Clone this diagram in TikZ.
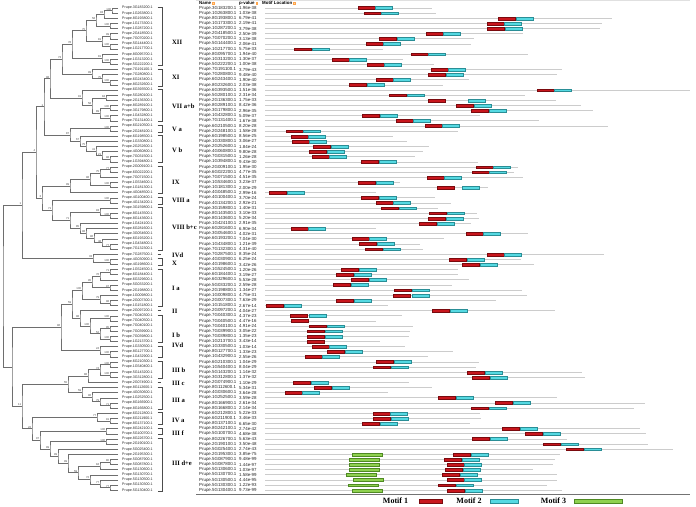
\documentclass[tikz,border=0pt]{standalone}
\usepackage{fontspec}
\setmainfont{Liberation Serif}
\setsansfont{Liberation Sans}
\usetikzlibrary{calc}
\definecolor{treec}{HTML}{6E6E6E}
\definecolor{seqc}{HTML}{CCCCCC}
\definecolor{mone}{HTML}{C8161D}
\definecolor{moned}{HTML}{7A0A0E}
\definecolor{mtwo}{HTML}{55D9E2}
\definecolor{mtwod}{HTML}{2A8E96}
\definecolor{mthree}{HTML}{8FD14F}
\definecolor{mthreed}{HTML}{4F8A23}
\newcommand\RY[1]{8+(#1-1)*5.13}
\newcommand\tn[5]{%
  \path let \p1=($(#3)!.5!(#4)$) in (#2pt,\y1) coordinate (#1);
  \draw[tbr] (#3) -| (#1) |- (#4);
  \node[boot] at (#1) {#5};}
\newcommand\grp[4]{%
  \draw[brk] (157.5,{\RY{#1}-0.8}) -- (162,{\RY{#1}-0.8}) -- (162,{\RY{#2}+0.8}) -- (157.5,{\RY{#2}+0.8});
  \node[glab] at (172,#4) {#3};}
\newcommand\sgl[3]{%
  \draw[brk] (157.5,{\RY{#1}}) -- (161,{\RY{#1}});
  \node[glab] at (172,#3) {#2};}
\tikzset{
  tbr/.style={draw=treec, line width=0.55pt},
  boot/.style={font=\sffamily\fontsize{2.8}{3}\selectfont, text=black!75, anchor=south east, inner sep=0.25pt, xshift=-0.4pt},
  leafl/.style={font=\sffamily\fontsize{3.6}{4}\selectfont, anchor=west, inner sep=0, text=black!85},
  tname/.style={font=\sffamily\fontsize{4.4}{5}\selectfont, anchor=west, inner sep=0, text=black!85},
  hdr/.style={font=\sffamily\bfseries\fontsize{4.4}{5}\selectfont, anchor=west, inner sep=0},
  glab/.style={font=\bfseries\fontsize{6.6}{7.5}\selectfont, anchor=west, inner sep=0},
  brk/.style={draw=black!70, line width=0.45pt},
  seql/.style={draw=seqc, line width=0.8pt},
  mA/.style={fill=mone, draw=moned, line width=0.25pt},
  mB/.style={fill=mtwo, draw=mtwod, line width=0.25pt},
  mC/.style={fill=mthree, draw=mthreed, line width=0.25pt},
  legt/.style={font=\bfseries\fontsize{8}{9}\selectfont, inner sep=0},
  icon/.style={fill=orange!35, draw=orange!70, line width=0.2pt}
}
\begin{document}
\begin{tikzpicture}[x=1pt,y=-1pt]
\useasboundingbox (0,0) rectangle (696,506);
\fill[white] (0,0) rectangle (696,506);
% leaves
\foreach \i in {1,...,95} \coordinate (L\i) at (118,{\RY{\i}});
% tree
\tn{n1}{112}{L1}{L2}{100}
\tn{n2}{104}{n1}{L3}{93}
\tn{n3}{110}{L4}{L5}{100}
\tn{n4}{96}{n2}{n3}{58}
\tn{n5}{110}{L6}{L7}{99}
\tn{n6}{110}{L8}{L9}{100}
\tn{n7}{102}{n5}{n6}{81}
\tn{n8}{86}{n4}{n7}{75}
\tn{n9}{110}{L11}{L12}{100}
\tn{n10}{102}{L10}{n9}{81}
\tn{n11}{72}{n8}{n10}{78}
\tn{n12}{110}{L15}{L16}{100}
\tn{n13}{102}{L14}{n12}{75}
\tn{n14}{92}{L13}{n13}{99}
\tn{n15}{62}{n11}{n14}{73}
\tn{n16}{106}{L18}{L19}{84}
\tn{n17}{110}{L20}{L21}{100}
\tn{n18}{110}{L22}{L23}{100}
\tn{n19}{100}{n17}{n18}{89}
\tn{n20}{92}{n16}{n19}{58}
\tn{n21}{82}{L17}{n20}{91}
\tn{n22}{50}{n15}{n21}{98}
\tn{n23}{110}{L24}{L25}{100}
\tn{n24}{110}{L30}{L31}{98}
\tn{n25}{102}{L29}{n24}{21}
\tn{n26}{96}{L28}{n25}{41}
\tn{n27}{86}{L27}{n26}{75}
\tn{n28}{80}{L26}{n27}{67}
\tn{n29}{70}{n23}{n28}{87}
\tn{n30}{44}{n22}{n29}{1}
\tn{n31}{110}{L32}{L33}{77}
\tn{n32}{100}{n31}{L34}{75}
\tn{n33}{110}{L35}{L36}{100}
\tn{n34}{90}{n32}{n33}{98}
\tn{n35}{70}{n34}{L37}{99}
\tn{n36}{110}{L38}{L39}{100}
\tn{n37}{110}{L41}{L42}{100}
\tn{n38}{100}{L40}{n37}{93}
\tn{n39}{110}{L47}{L48}{77}
\tn{n40}{102}{L46}{n39}{48}
\tn{n41}{94}{L45}{n40}{96}
\tn{n42}{86}{L44}{n41}{98}
\tn{n43}{80}{L43}{n42}{85}
\tn{n44}{70}{n38}{n43}{71}
\tn{n45}{52}{n36}{n44}{71}
\tn{n46}{42}{n35}{n45}{3}
\tn{n47}{36}{n30}{n46}{4}
\tn{n48}{110}{L50}{L51}{100}
\tn{n49}{93}{L49}{n48}{33}
\tn{n50}{22}{n47}{n49}{1}
\tn{n51}{110}{L52}{L53}{71}
\tn{n52}{100}{n51}{L54}{76}
\tn{n53}{110}{L55}{L56}{97}
\tn{n54}{92}{n52}{n53}{95}
\tn{n55}{110}{L58}{L59}{98}
\tn{n56}{100}{L57}{n55}{79}
\tn{n57}{82}{n54}{n56}{100}
\tn{n58}{110}{L61}{L62}{100}
\tn{n59}{110}{L63}{L64}{95}
\tn{n60}{110}{L65}{L66}{100}
\tn{n61}{100}{n59}{n60}{52}
\tn{n62}{90}{n58}{n61}{100}
\tn{n63}{80}{L60}{n62}{98}
\tn{n64}{72}{n57}{n63}{59}
\tn{n65}{110}{L68}{L69}{100}
\tn{n66}{100}{L67}{n65}{24}
\tn{n67}{61}{n64}{n66}{96}
\tn{n68}{110}{L70}{L71}{100}
\tn{n69}{110}{L72}{L73}{100}
\tn{n70}{100}{n68}{n69}{74}
\tn{n71}{88}{n70}{L74}{88}
\tn{n72}{110}{L78}{L79}{71}
\tn{n73}{100}{L77}{n72}{79}
\tn{n74}{92}{L76}{n73}{96}
\tn{n75}{82}{L75}{n74}{59}
\tn{n76}{68}{n71}{n75}{55}
\tn{n77}{110}{L81}{L82}{91}
\tn{n78}{97}{L80}{n77}{77}
\tn{n79}{106}{L83}{L84}{100}
\tn{n80}{110}{L89}{L90}{80}
\tn{n81}{100}{n80}{L91}{84}
\tn{n82}{110}{L94}{L95}{77}
\tn{n83}{100}{L93}{n82}{77}
\tn{n84}{90}{L92}{n83}{72}
\tn{n85}{78}{n81}{n84}{59}
\tn{n86}{68}{L88}{n85}{99}
\tn{n87}{58}{L87}{n86}{99}
\tn{n88}{106}{L85}{L86}{100}
\tn{n89}{50}{n88}{n87}{99}
\tn{n90}{40}{n79}{n89}{97}
\tn{n91}{32}{n78}{n90}{22}
\tn{n92}{22}{n76}{n91}{11}
\tn{n93}{12}{n67}{n92}{}
\tn{root}{3}{n50}{n93}{}
% leaf labels, table names, p-values
\foreach \nm/\pv [count=\i] in {3G183200/1.96e-38,1G263800/1.03e-38,8G193800/6.79e-41,1G173300/2.19e-41,1G287200/3.79e-38,2G418500/2.50e-39,7G070200/3.13e-38,5G144400/2.06e-41,1G217700/5.75e-33,8G095700/1.94e-40,1G313200/1.30e-37,5G222200/1.00e-38,7G191100/3.79e-43,7G280800/9.48e-40,6G243400/1.90e-40,8G232600/2.03e-38,6G393500/1.51e-36,5G280100/2.31e-34,2G136300/1.75e-33,8G289100/8.42e-36,3G179800/2.96e-35,1G432800/5.09e-37,7G131400/1.67e-38,6G210500/8.20e-28,2G248100/1.58e-28,6G198500/8.56e-25,1G330800/3.06e-27,2G252600/1.84e-24,4G060800/9.80e-28,7G031500/1.26e-28,1G394800/9.43e-30,2G009100/1.95e-30,6G022200/4.77e-35,7G071500/4.51e-35,1G534600/3.23e-37,1G181300/2.00e-29,4G048500/2.99e-16,4G100400/3.70e-24,4G134200/2.92e-21,3G159800/1.40e-31,8G143500/3.10e-33,8G143600/5.20e-34,1G424100/2.91e-35,6G281600/6.90e-34,3G054600/4.02e-31,6G193200/7.04e-30,1G434800/1.21e-39,7G132300/4.31e-40,7G287500/8.35e-24,4G030900/6.25e-24,4G198600/3.42e-26,1G524500/1.20e-26,6G184400/3.19e-27,6G329600/5.53e-28,5G033200/2.59e-28,2G198800/1.34e-27,1G009800/4.75e-31,2G007300/7.63e-29,1G151800/2.67e-14,2G097200/4.04e-27,7G040300/4.37e-23,7G040500/4.47e-16,7G040100/4.91e-24,7G039900/3.05e-22,7G039800/1.35e-23,1G213700/3.43e-14,1G330500/1.03e-14,8G127700/1.33e-23,1G432900/2.55e-26,6G210300/1.04e-29,1G540400/8.04e-29,5G143200/1.14e-32,3G312800/1.37e-32,2G074900/1.10e-29,8G112600/5.34e-31,4G030600/3.64e-28,1G252500/3.59e-28,8G166900/2.61e-34,8G166800/2.14e-34,6G212800/5.22e-33,6G211900/3.46e-33,8G137100/6.65e-30,8G242100/2.74e-42,5G100700/4.68e-38,8G226700/5.63e-43,2G190100/3.50e-48,5G025400/2.74e-43,2G195300/3.85e-75,5G087900/9.48e-99,5G087800/1.44e-97,5G130600/1.03e-97,5G130700/1.58e-99,5G130500/4.44e-95,5G130300/1.22e-93,5G130400/9.73e-99}{
  \node[leafl] (tl\i) at (122,{\RY{\i}}) {Prupe.\nm.1};
  \node[tname] (nm\i) at (199,{\RY{\i}}) {Prupe.\nm.1};
  \node[tname] (pv\i) at (239,{\RY{\i}}) {\pv};
}
% groups
\grp{1}{12}{XII}{42}
\grp{13}{16}{XI}{77}
\grp{17}{23}{VII a+b}{106}
\grp{24}{25}{V a}{129}
\grp{26}{31}{V b}{150}
\grp{32}{37}{IX}{182}
\grp{38}{39}{VIII a}{200}
\grp{40}{48}{VIII b+c}{227}
\sgl{49}{IVd}{255}
\grp{50}{51}{X}{263}
\grp{52}{59}{I a}{288}
\sgl{60}{II}{311}
\grp{61}{66}{I b}{335}
\grp{67}{69}{IVd}{345}
\grp{70}{73}{III b}{370}
\sgl{74}{III c}{383}
\grp{75}{79}{III a}{400}
\grp{80}{82}{IV a}{420}
\grp{83}{84}{III f}{433}
\grp{85}{95}{III d+e}{463}
% header
\draw[black!12, line width=0.4pt] (196,0.6) -- (690,0.6);
\node[hdr] (hname) at (199,3) {Name};
\draw[icon] ($(hname.east)+(0.8,-0.9)$) rectangle ++(1.8,1.8);
\node[hdr] (hpv) at (239,3) {p-value};
\draw[icon] ($(hpv.east)+(0.8,-0.9)$) rectangle ++(1.8,1.8);
\node[hdr] (hml) at (262,3) {Motif Location};
\draw[icon] ($(hml.east)+(0.8,-0.9)$) rectangle ++(1.8,1.8);
% sequences with motif 1 and motif 2
\foreach \i/\e/\r/\c in {1/432/358/375,2/436/364/381,3/612/498/516,4/602/487/504,5/600/487/505,6/523/426/443,7/474/379/397,8/471/366/383,9/383/294/312,10/528/411/428,11/403/332/349,12/434/367/384,13/562/431/448,14/557/428/446,15/469/376/393,16/443/349/367,17/690/537/554,18/525/389/407,19/556/428/468,20/581/456/474,21/593/471/489,22/480/362/380,23/539/396/413,24/608/425/442,25/458/286/303,26/393/291/308,27/407/292/309,28/429/313/331,29/423/309/327,30/415/312/329,31/478/361/379,32/518/476/493,33/514/472/489,34/523/427/444,35/400/358/376,36/488/437/462,37/376/269/287,38/435/361/379,39/451/376/393,40/438/381/399,41/477/429/447,42/479/428/446,43/471/419/437,44/376/291/308,45/528/466/483,46/444/352/369,47/420/359/377,48/423/365/383,49/604/487/504,50/521/449/467,51/534/462/480,52/458/341/359,53/458/336/354,54/469/351/369,55/452/333/351,56/522/394/412,57/527/393/412,58/496/336/354,59/388/266/284,60/555/432/450,61/402/290/309,63/413/309/327,64/410/307/325,65/409/307/325,67/405/312/329,68/453/327/345,69/428/305/322,70/479/376/394,71/476/373/391,72/582/467/485,73/585/472/490,74/409/293/311,75/432/314/332,76/388/285/302,77/557/438/456,78/645/495/513,79/634/471/489,80/480/373/390,81/481/373/391,82/470/362/380,83/640/502/520,84/646/525/543,85/567/472/490,86/648/543/561,87/673/566/584,88/560/453/471,89/555/444/462,90/553/447/464,91/533/445/463,92/557/442/460,93/557/447/464,94/547/438/456,95/562/447/465}{
  \draw[seql] (265,{\RY{\i}}) -- (\e,{\RY{\i}});
  \draw[mA] (\r,{\RY{\i}-1.4}) rectangle ++(17.5,2.8);
  \draw[mB] (\c,{\RY{\i}-1.4}) rectangle ++(17.3,2.8);
}
% sequences with motif 1 only
\foreach \i/\e/\r in {62/376/291,66/380/307}{
  \draw[seql] (265,{\RY{\i}}) -- (\e,{\RY{\i}});
  \draw[mA] (\r,{\RY{\i}-1.4}) rectangle ++(17.5,2.8);
}
% motif 3
\foreach \i/\g in {88/352,89/349,90/349,91/349,92/346,93/353,94/348,95/352}{
  \draw[mC] (\g,{\RY{\i}-1.4}) rectangle ++(30,2.8);
}
% bottom rule
\draw[black!55, line width=0.7pt] (196,494) -- (690,494);
% legend
\node[legt] (lg1) at (395.5,501) {Motif 1};
\draw[mA] (419,499.3) rectangle (442,502.7);
\node[legt] (lg2) at (469,501) {Motif 2};
\draw[mB] (490,499.3) rectangle (518,502.7);
\node[legt] (lg3) at (553.5,501) {Motif 3};
\draw[mC] (574,499.3) rectangle (622,502.7);
\end{tikzpicture}
\end{document}
